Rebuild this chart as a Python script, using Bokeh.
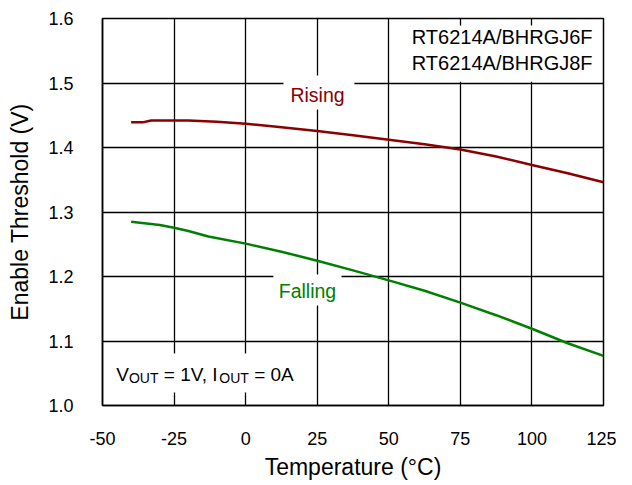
from bokeh.plotting import figure
from bokeh.models import Label, BoxAnnotation, FixedTicker, Range1d
from bokeh.embed import file_html
from bokeh.resources import INLINE

# ---- data ----
rising_temp = [-40, -36, -33, -20, -10, 0, 10, 25, 37.5, 50, 62.5, 75, 87.5, 100, 112.5, 125]
rising_vth = [1.439, 1.439, 1.442, 1.442, 1.440, 1.4367, 1.4325, 1.4255, 1.419, 1.412,
              1.405, 1.397, 1.386, 1.373, 1.360, 1.346]

falling_temp = [-40, -30, -25, -20, -13, 0, 12.5, 25, 37.5, 50, 62.5, 75, 87.5, 100, 112.5, 125]
falling_vth = [1.285, 1.280, 1.2755, 1.2705, 1.262, 1.251, 1.2385, 1.2245, 1.2095, 1.194,
               1.178, 1.1595, 1.140, 1.119, 1.0965, 1.077]

x_ticks = [-50, -25, 0, 25, 50, 75, 100, 125]
x_tick_labels = ["-50", "-25", "0", "25", "50", "75", "100", "125"]
y_ticks = [1.0, 1.1, 1.2, 1.3, 1.4, 1.5, 1.6]
y_tick_labels = ["1.0", "1.1", "1.2", "1.3", "1.4", "1.5", "1.6"]

device_lines = ["RT6214A/BHRGJ6F", "RT6214A/BHRGJ8F"]

FONT = "Liberation Sans"
RED = "#8B0000"
GREEN = "#008000"

p = figure(
    output_backend="svg", toolbar_location=None,
    frame_width=501, frame_height=387,
    min_border_left=102, min_border_right=13, min_border_top=18, min_border_bottom=64,
    x_range=Range1d(-50, 125), y_range=Range1d(1.0, 1.6),
    background_fill_color="white", border_fill_color="white",
)

p.outline_line_color = "black"
p.outline_line_width = 1.5

p.xaxis.ticker = FixedTicker(ticks=x_ticks)
p.yaxis.ticker = FixedTicker(ticks=y_ticks)
p.xaxis.major_label_overrides = {t: l for t, l in zip(x_ticks, x_tick_labels)}
p.yaxis.major_label_overrides = {t: l for t, l in zip(y_ticks, y_tick_labels)}

for ax in (p.xaxis, p.yaxis):
    ax.axis_line_color = "black"
    ax.axis_line_width = 1.5
    ax.major_tick_line_color = None
    ax.minor_tick_line_color = None
    ax.major_label_text_font = FONT
    ax.major_label_text_font_size = "18px"
    ax.major_label_text_color = "black"
    ax.axis_label_text_font = FONT
    ax.axis_label_text_font_size = "23px"
    ax.axis_label_text_font_style = "normal"
    ax.axis_label_text_color = "black"

p.xaxis.axis_label = "Temperature (°C)"
p.yaxis.axis_label = "Enable Threshold (V)"
p.xaxis.major_label_standoff = 20
p.yaxis.major_label_standoff = 23
p.xaxis.axis_label_standoff = 6
p.yaxis.axis_label_standoff = 12

p.xgrid.ticker = FixedTicker(ticks=x_ticks)
p.ygrid.ticker = FixedTicker(ticks=y_ticks)
p.grid.grid_line_color = "black"
p.grid.grid_line_width = 1.3
p.grid.grid_line_alpha = 1.0

p.line(rising_temp, rising_vth, line_color=RED, line_width=2.5)
p.line(falling_temp, falling_vth, line_color=GREEN, line_width=2.5)

# white boxes behind the annotation texts
def white_box(left, right, bottom, top):
    p.add_layout(BoxAnnotation(left=left, right=right, bottom=bottom, top=top,
                               fill_color="white", fill_alpha=1.0, line_color=None,
                               level="annotation"))

white_box(55.8, 122.9, 1.502, 1.589)
white_box(13.2, 38.0, 1.459, 1.5116)
white_box(9.7, 33.5, 1.155, 1.203)
white_box(-48.0, 22.0, 1.020, 1.0806)

LIFT = 7

def label(x, y, text, size="19px", color="black", align="center", x_off=0, y_off=0):
    p.add_layout(Label(x=x, y=y, text=text, text_font=FONT, text_font_size=size,
                       text_color=color, text_align=align, text_baseline="alphabetic",
                       x_offset=x_off, y_offset=y_off + LIFT))

label(89.6, 1.561, device_lines[0], size="20px")
label(89.6, 1.5195, device_lines[1], size="20px")
label(25.1, 1.471, "Rising", size="19.5px", color=RED)
label(21.6, 1.166, "Falling", size="19.5px", color=GREEN)

# V_OUT = 1V, I_OUT = 0A
ax0, ay0 = -45.2, 1.037
label(ax0, ay0, "V", align="left", x_off=0)
label(ax0, ay0, "OUT", size="14px", align="left", x_off=12.7, y_off=-3)
label(ax0, ay0, "= 1V, I", align="left", x_off=47.6)
label(ax0, ay0, "OUT", size="14px", align="left", x_off=103.0, y_off=-3)
label(ax0, ay0, "= 0A", align="left", x_off=137.9)

open("out.html", "w").write(file_html(p, INLINE))
